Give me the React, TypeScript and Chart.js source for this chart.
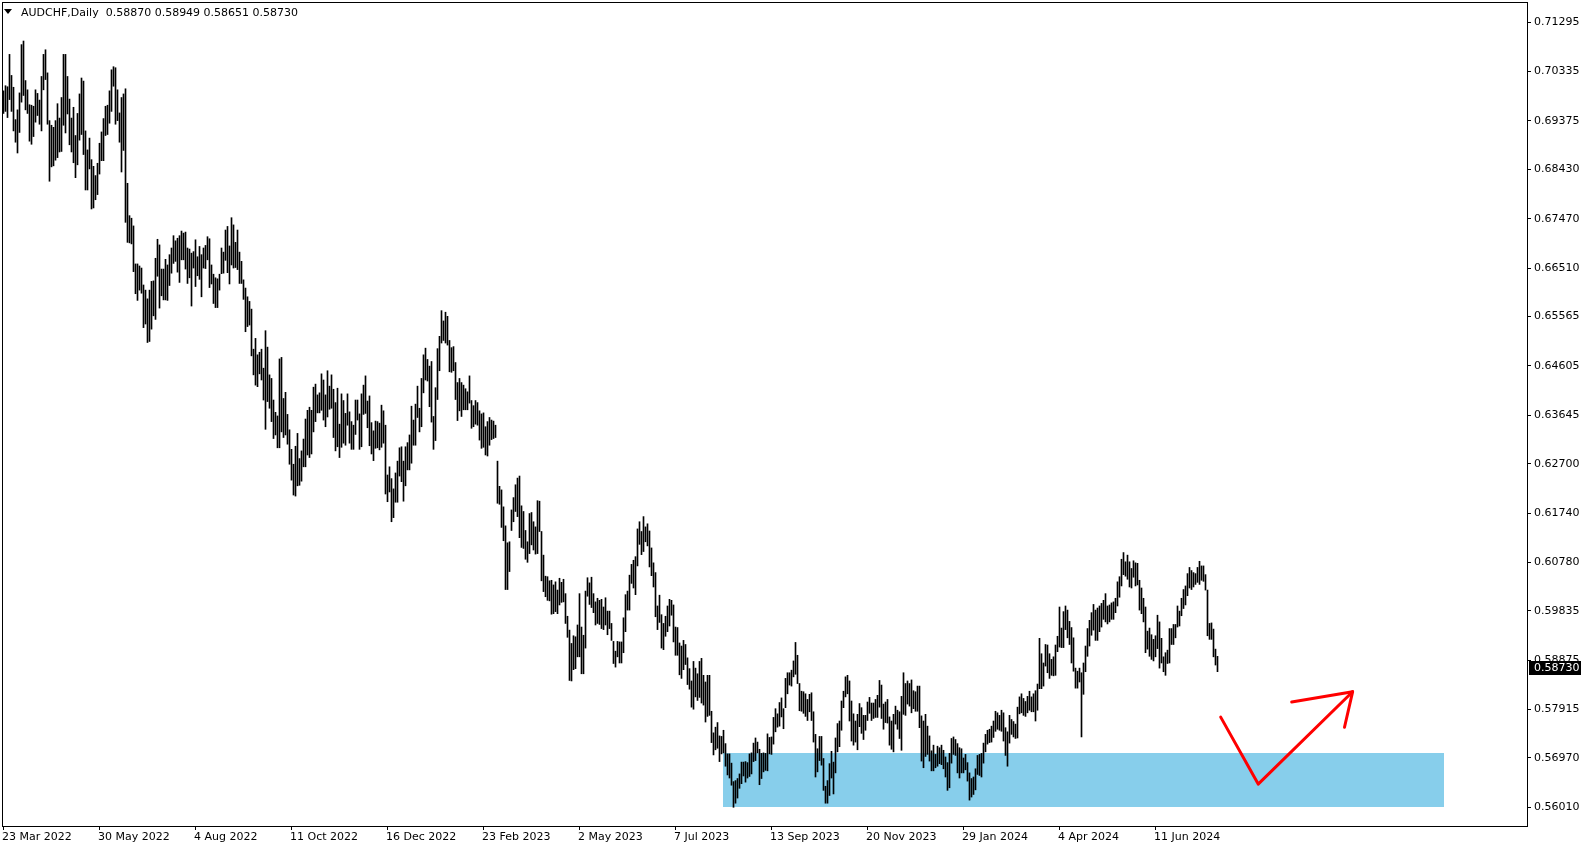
import React, { useEffect, useRef } from "react";
import { Chart, registerables } from "chart.js";

Chart.register(...registerables);

const FONT = "'DejaVu Sans', Verdana, sans-serif";

// Header
const symbolTitle = "AUDCHF,Daily";
const lastOHLC = [0.5887, 0.58949, 0.58651, 0.5873];

// Daily highs / lows, in units of 0.0001 (pips), bar 0 = 23 Mar 2022
const highs = [
  6996, 7006, 7004, 7067, 7026, 7003, 6940, 6959, 6992, 7086,
  7093, 7016, 6998, 6969, 6968, 6966, 6998, 6991, 6978, 7024,
  7067, 7076, 7031, 6938, 6929, 6925, 6938, 6971, 6943, 6983,
  7067, 7067, 7024, 6980, 6943, 6964, 6909, 6952, 6990, 7021,
  7015, 6918, 6881, 6904, 6862, 6849, 6831, 6855, 6894, 6916,
  6942, 6966, 6968, 6996, 7037, 7043, 7041, 6998, 6953, 6983,
  6990, 7000, 6816, 6753, 6748, 6733, 6659, 6659, 6655, 6651,
  6618, 6608, 6591, 6608, 6625, 6626, 6670, 6707, 6696, 6649,
  6649, 6668, 6657, 6677, 6690, 6714, 6704, 6709, 6714, 6723,
  6719, 6721, 6690, 6688, 6680, 6683, 6706, 6673, 6693, 6677,
  6690, 6695, 6712, 6708, 6657, 6639, 6632, 6630, 6639, 6690,
  6682, 6725, 6732, 6694, 6749, 6735, 6701, 6725, 6682, 6664,
  6628, 6612, 6595, 6586, 6571, 6493, 6514, 6482, 6487, 6493,
  6456, 6529, 6497, 6443, 6436, 6394, 6370, 6363, 6474, 6477,
  6397, 6409, 6366, 6336, 6298, 6269, 6304, 6329, 6280, 6295,
  6318, 6357, 6374, 6380, 6374, 6419, 6425, 6404, 6408, 6445,
  6433, 6404, 6451, 6421, 6443, 6415, 6389, 6417, 6347, 6406,
  6393, 6368, 6406, 6371, 6352, 6345, 6394, 6394, 6367, 6406,
  6423, 6441, 6392, 6402, 6350, 6334, 6353, 6352, 6349, 6384,
  6373, 6345, 6248, 6264, 6241, 6221, 6252, 6275, 6301, 6303,
  6275, 6303, 6311, 6326, 6382, 6355, 6386, 6421, 6378, 6436,
  6482, 6495, 6473, 6460, 6469, 6362, 6418, 6494, 6518, 6568,
  6548, 6565, 6557, 6510, 6496, 6498, 6467, 6428, 6436, 6428,
  6423, 6416, 6410, 6441, 6393, 6383, 6393, 6389, 6373, 6367,
  6369, 6342, 6352, 6360, 6355, 6353, 6345, 6275, 6226, 6219,
  6186, 6149, 6116, 6118, 6180, 6204, 6229, 6242, 6246, 6188,
  6177, 6140, 6118, 6173, 6175, 6157, 6147, 6198, 6197, 6138,
  6092, 6051, 6050, 6042, 6043, 6034, 6040, 6024, 6047, 6039,
  6045, 6017, 5973, 5946, 5920, 5935, 5933, 5956, 6017, 5952,
  5936, 6022, 6048, 6038, 6049, 6017, 6001, 6008, 6004, 6006,
  5991, 6009, 5983, 5983, 5959, 5924, 5905, 5924, 5923, 5923,
  5970, 6015, 6022, 6053, 6074, 6082, 6089, 6143, 6157, 6138,
  6167, 6147, 6153, 6139, 6106, 6077, 6058, 5993, 6014, 5976,
  5959, 5973, 5993, 6006, 6004, 5995, 5952, 5951, 5921, 5915,
  5926, 5918, 5892, 5871, 5847, 5885, 5872, 5861, 5885, 5891,
  5858, 5845, 5858, 5858, 5788, 5746, 5757, 5766, 5740, 5739,
  5751, 5725, 5705, 5705, 5687, 5651, 5653, 5657, 5666, 5689,
  5689, 5690, 5688, 5705, 5707, 5726, 5736, 5728, 5714, 5706,
  5707, 5706, 5744, 5737, 5738, 5776, 5793, 5783, 5805, 5814,
  5793, 5852, 5863, 5863, 5868, 5886, 5922, 5897, 5842, 5827,
  5826, 5822, 5811, 5821, 5824, 5787, 5743, 5715, 5739, 5739,
  5696, 5642, 5653, 5686, 5710, 5689, 5736, 5764, 5769, 5808,
  5827, 5855, 5858, 5847, 5808, 5783, 5769, 5782, 5803, 5795,
  5780, 5780, 5806, 5815, 5804, 5804, 5811, 5819, 5848, 5839,
  5802, 5806, 5811, 5777, 5769, 5782, 5798, 5790, 5787, 5817,
  5863, 5842, 5847, 5842, 5849, 5828, 5826, 5837, 5837, 5779,
  5769, 5782, 5759, 5740, 5711, 5722, 5704, 5720, 5717, 5722,
  5712, 5699, 5688, 5706, 5735, 5738, 5733, 5725, 5717, 5715,
  5697, 5704, 5688, 5668, 5657, 5660, 5676, 5702, 5704, 5706,
  5726, 5743, 5751, 5753, 5759, 5769, 5788, 5785, 5780, 5790,
  5785, 5756, 5748, 5780, 5772, 5768, 5763, 5796, 5816, 5822,
  5813, 5807, 5817, 5827, 5816, 5822, 5828, 5841, 5930, 5900,
  5882, 5918, 5917, 5900, 5889, 5894, 5917, 5934, 5991, 5950,
  5982, 5993, 5985, 5963, 5951, 5931, 5872, 5866, 5872, 5863,
  5882, 5915, 5949, 5965, 5980, 5996, 5985, 5989, 5993, 5998,
  6004, 6017, 5993, 5995, 5999, 6001, 6008, 6040, 6050, 6084,
  6097, 6079, 6092, 6079, 6066, 6081, 6077, 6076, 6043, 6028,
  6008, 5991, 5944, 5950, 5937, 5928, 5935, 5975, 5962, 5930,
  5894, 5902, 5907, 5949, 5949, 5957, 5957, 5993, 5983, 6008,
  6025, 6032, 6056, 6068, 6062, 6058, 6056, 6068, 6080, 6071,
  6071, 6054, 6024, 5959, 5960, 5948, 5909, 5894.9,
];

const lows = [
  6952, 6956, 6944, 6979, 6956, 6918, 6896, 6875, 6915, 6974,
  6987, 6959, 6952, 6898, 6892, 6907, 6935, 6948, 6931, 6918,
  6998, 7018, 6931, 6820, 6848, 6850, 6861, 6866, 6877, 6878,
  6929, 6914, 6951, 6891, 6877, 6856, 6827, 6852, 6900, 6911,
  6872, 6803, 6803, 6844, 6766, 6768, 6784, 6794, 6834, 6860,
  6860, 6909, 6911, 6933, 6956, 7005, 6931, 6938, 6896, 6838,
  6880, 6740, 6701, 6700, 6698, 6644, 6601, 6588, 6608, 6602,
  6535, 6542, 6506, 6508, 6532, 6558, 6551, 6635, 6573, 6597,
  6589, 6589, 6588, 6617, 6641, 6660, 6664, 6643, 6623, 6667,
  6667, 6649, 6621, 6632, 6577, 6651, 6615, 6636, 6629, 6595,
  6651, 6650, 6667, 6613, 6620, 6582, 6574, 6574, 6608, 6640,
  6641, 6666, 6642, 6620, 6657, 6651, 6652, 6648, 6621, 6621,
  6590, 6527, 6537, 6540, 6480, 6443, 6423, 6420, 6445, 6433,
  6394, 6337, 6391, 6378, 6352, 6319, 6326, 6301, 6301, 6332,
  6321, 6326, 6308, 6269, 6238, 6209, 6207, 6227, 6228, 6236,
  6264, 6264, 6287, 6282, 6289, 6332, 6352, 6369, 6369, 6374,
  6355, 6342, 6361, 6376, 6378, 6321, 6295, 6303, 6282, 6302,
  6310, 6306, 6345, 6310, 6298, 6298, 6327, 6355, 6298, 6303,
  6366, 6368, 6340, 6305, 6289, 6276, 6300, 6301, 6297, 6302,
  6310, 6211, 6196, 6215, 6157, 6165, 6195, 6195, 6246, 6235,
  6197, 6227, 6258, 6258, 6271, 6306, 6306, 6360, 6332, 6342,
  6408, 6433, 6431, 6381, 6351, 6298, 6315, 6395, 6451, 6505,
  6510, 6505, 6501, 6449, 6448, 6451, 6395, 6354, 6373, 6362,
  6375, 6375, 6375, 6388, 6339, 6342, 6347, 6345, 6316, 6300,
  6302, 6287, 6285, 6306, 6317, 6319, 6321, 6193, 6191, 6146,
  6120, 6025, 6025, 6060, 6140, 6157, 6177, 6167, 6126, 6107,
  6105, 6084, 6078, 6095, 6112, 6102, 6094, 6095, 6138, 6042,
  6021, 6011, 6004, 6003, 5977, 5978, 5982, 5978, 5995, 6000,
  6001, 5959, 5932, 5848, 5847, 5869, 5871, 5894, 5894, 5861,
  5861, 5911, 6012, 5996, 5990, 5980, 5956, 5959, 5957, 5949,
  5947, 5956, 5937, 5949, 5926, 5881, 5874, 5894, 5882, 5882,
  5902, 5943, 5985, 5985, 6037, 6028, 6015, 6071, 6113, 6093,
  6099, 6118, 6110, 6069, 6052, 6030, 5972, 5947, 5961, 5911,
  5908, 5934, 5943, 5954, 5975, 5923, 5897, 5897, 5859, 5852,
  5869, 5879, 5840, 5831, 5796, 5792, 5816, 5809, 5815, 5804,
  5800, 5767, 5778, 5780, 5727, 5703, 5713, 5716, 5690, 5705,
  5707, 5681, 5664, 5658, 5644, 5601, 5609, 5619, 5638, 5647,
  5662, 5650, 5658, 5661, 5666, 5690, 5692, 5707, 5645, 5657,
  5670, 5673, 5672, 5705, 5704, 5724, 5748, 5757, 5759, 5777,
  5754, 5795, 5822, 5839, 5837, 5855, 5860, 5842, 5789, 5788,
  5784, 5778, 5770, 5787, 5770, 5728, 5660, 5670, 5692, 5683,
  5634, 5609, 5609, 5624, 5658, 5627, 5668, 5709, 5719, 5751,
  5795, 5816, 5822, 5769, 5730, 5722, 5728, 5713, 5758, 5745,
  5733, 5751, 5770, 5784, 5770, 5774, 5776, 5776, 5796, 5774,
  5753, 5766, 5765, 5722, 5714, 5709, 5763, 5753, 5735, 5712,
  5782, 5780, 5802, 5798, 5785, 5793, 5788, 5788, 5756, 5691,
  5678, 5700, 5704, 5691, 5672, 5672, 5678, 5681, 5686, 5684,
  5676, 5660, 5634, 5639, 5687, 5704, 5702, 5668, 5658, 5668,
  5668, 5674, 5652, 5615, 5621, 5626, 5635, 5665, 5663, 5660,
  5687, 5709, 5724, 5727, 5728, 5737, 5749, 5753, 5751, 5749,
  5730, 5702, 5681, 5726, 5743, 5738, 5735, 5736, 5783, 5785,
  5780, 5778, 5785, 5790, 5787, 5787, 5769, 5790, 5832, 5832,
  5837, 5876, 5863, 5852, 5858, 5857, 5858, 5904, 5913, 5912,
  5912, 5947, 5931, 5918, 5882, 5866, 5833, 5833, 5845, 5738,
  5821, 5865, 5895, 5915, 5936, 5946, 5926, 5926, 5943, 5952,
  5967, 5962, 5958, 5962, 5967, 5967, 5980, 5993, 6010, 6032,
  6054, 6051, 6045, 6030, 6028, 6049, 6032, 6034, 5985, 5978,
  5962, 5902, 5909, 5895, 5889, 5886, 5894, 5910, 5872, 5882,
  5865, 5858, 5881, 5882, 5918, 5918, 5931, 5952, 5954, 5974,
  5988, 5995, 6013, 6028, 6025, 6030, 6035, 6039, 6035, 6043,
  6041, 6024, 5935, 5928, 5928, 5894, 5878, 5865.1,
];

// Time axis labels and the bar they belong to
const dateLabels = [
  "23 Mar 2022", "30 May 2022", "4 Aug 2022", "11 Oct 2022", "16 Dec 2022",
  "23 Feb 2023", "2 May 2023", "7 Jul 2023", "13 Sep 2023", "20 Nov 2023",
  "29 Jan 2024", "4 Apr 2024", "11 Jun 2024",
];
const dateLabelBars = [0, 48, 96, 144, 192, 240, 288, 336, 384, 432, 480, 528, 576];

// Price axis labels
const priceTicks = [
  0.71295, 0.70335, 0.69375, 0.6843, 0.6747, 0.6651, 0.65565, 0.64605, 0.63645,
  0.627, 0.6174, 0.6078, 0.59835, 0.58875, 0.57915, 0.5697, 0.5601,
];

// Axis ranges (bar index / price)
const xRange = [-0.75, 761.75];
const yRange = [0.556459, 0.7169];

// Support zone (bar index from/to, price low/high)
const zoneBars = [359.75, 720.25];
const zonePrices = [0.5602, 0.5707];

// Hand-drawn red arrow (bar index, price)
const arrowX = [608.6, 627.35, 674.55];
const arrowY = [0.57766, 0.56462, 0.58259];
const headAX = [644.1, 674.55];
const headAY = [0.58062, 0.58259];
const headBX = [670.5, 674.55];
const headBY = [0.57568, 0.58259];

export default function App() {
  const ref = useRef<HTMLCanvasElement>(null);

  useEffect(() => {
    const canvas = ref.current;
    if (!canvas) return;

    const bars = highs.map((h, i) => ({ x: i, y: [lows[i] / 1e4, h / 1e4] }));
    const pts = (xs: number[], ys: number[]) => xs.map((x, i) => ({ x, y: ys[i] }));

    const mtPlugin = {
      id: "mtDecor",
      beforeDatasetsDraw(chart: any) {
        const { ctx, scales } = chart;
        const x0 = scales.x.getPixelForValue(zoneBars[0]);
        const x1 = scales.x.getPixelForValue(zoneBars[1]);
        const y0 = scales.y.getPixelForValue(zonePrices[1]);
        const y1 = scales.y.getPixelForValue(zonePrices[0]);
        ctx.save();
        ctx.fillStyle = "#87CEEB";
        ctx.fillRect(Math.round(x0), Math.round(y0), Math.round(x1 - x0), Math.round(y1 - y0));
        ctx.restore();
      },
      afterDraw(chart: any) {
        const { ctx, chartArea: a, scales } = chart;
        ctx.save();
        // frame
        ctx.strokeStyle = "#000";
        ctx.lineWidth = 1;
        ctx.strokeRect(a.left + 0.5, a.top + 0.5, a.right - a.left, a.bottom - a.top);
        // header
        ctx.fillStyle = "#000";
        ctx.beginPath();
        ctx.moveTo(4, 9);
        ctx.lineTo(12, 9);
        ctx.lineTo(8, 14);
        ctx.closePath();
        ctx.fill();
        ctx.textBaseline = "alphabetic";
        ctx.font = `11px ${FONT}`;
        ctx.fillText(
          `${symbolTitle}  ${lastOHLC.map((v) => v.toFixed(5)).join(" ")}`,
          21,
          16
        );
        // current price tag
        const py = scales.y.getPixelForValue(lastOHLC[3]);
        ctx.fillStyle = "#000";
        ctx.fillRect(a.right + 2, Math.round(py) - 7, 52, 14);
        ctx.fillStyle = "#fff";
        ctx.font = `11px ${FONT}`;
        ctx.textBaseline = "middle";
        ctx.fillText(lastOHLC[3].toFixed(5), a.right + 7, Math.round(py));
        ctx.restore();
      },
    };

    const arrowStyle = {
      type: "line" as const,
      borderColor: "#ff0000",
      borderWidth: 3,
      pointRadius: 0,
      fill: false,
      tension: 0,
      borderCapStyle: "round" as const,
      borderJoinStyle: "round" as const,
    };

    const chart = new Chart(canvas, {
      type: "bar",
      data: {
        datasets: [
          {
            type: "bar",
            data: bars as any,
            backgroundColor: "#000",
            borderWidth: 0,
            barThickness: 1,
          } as any,
          { ...arrowStyle, data: pts(arrowX, arrowY) } as any,
          { ...arrowStyle, data: pts(headAX, headAY) } as any,
          { ...arrowStyle, data: pts(headBX, headBY) } as any,
        ],
      },
      options: {
        responsive: false,
        maintainAspectRatio: false,
        animation: false,
        events: [],
        layout: { padding: { left: 2, top: 2, right: 0, bottom: 0 } },
        plugins: {
          legend: { display: false },
          tooltip: { enabled: false },
          title: { display: false },
        },
        scales: {
          x: {
            type: "linear",
            min: xRange[0],
            max: xRange[1],
            offset: false,
            grid: {
              display: true,
              drawOnChartArea: false,
              drawTicks: true,
              tickLength: 4,
              color: "#000",
              offset: false,
            },
            border: { display: false },
            ticks: {
              autoSkip: false,
              maxRotation: 0,
              minRotation: 0,
              align: "start",
              padding: 1,
              labelOffset: -1.5,
              color: "#000",
              font: { family: FONT, size: 11 },
              callback: (_v: any, i: number) => dateLabels[i] ?? "",
            },
            afterBuildTicks: (s: any) => {
              s.ticks = dateLabelBars.map((v) => ({ value: v }));
            },
            afterFit: (s: any) => {
              s.height = 24;
              s.paddingLeft = 0;
              s.paddingRight = 0;
            },
          },
          y: {
            type: "linear",
            position: "right",
            min: yRange[0],
            max: yRange[1],
            grid: {
              display: true,
              drawOnChartArea: false,
              drawTicks: true,
              tickLength: 4,
              color: "#000",
            },
            border: { display: false },
            ticks: {
              autoSkip: false,
              padding: 3,
              color: "#000",
              font: { family: FONT, size: 11 },
              callback: (v: any) => Number(v).toFixed(5),
            },
            afterBuildTicks: (s: any) => {
              s.ticks = priceTicks.map((v) => ({ value: v }));
            },
            afterFit: (s: any) => {
              s.width = 64;
              s.paddingTop = 0;
              s.paddingBottom = 0;
            },
          },
        },
      } as any,
      plugins: [mtPlugin],
    });

    return () => chart.destroy();
  }, []);

  return (
    <div
      style={{
        position: "fixed",
        left: 0,
        top: 0,
        width: 1591,
        height: 850,
        background: "#fff",
      }}
    >
      <canvas ref={ref} width={1591} height={850} style={{ display: "block" }} />
    </div>
  );
}
